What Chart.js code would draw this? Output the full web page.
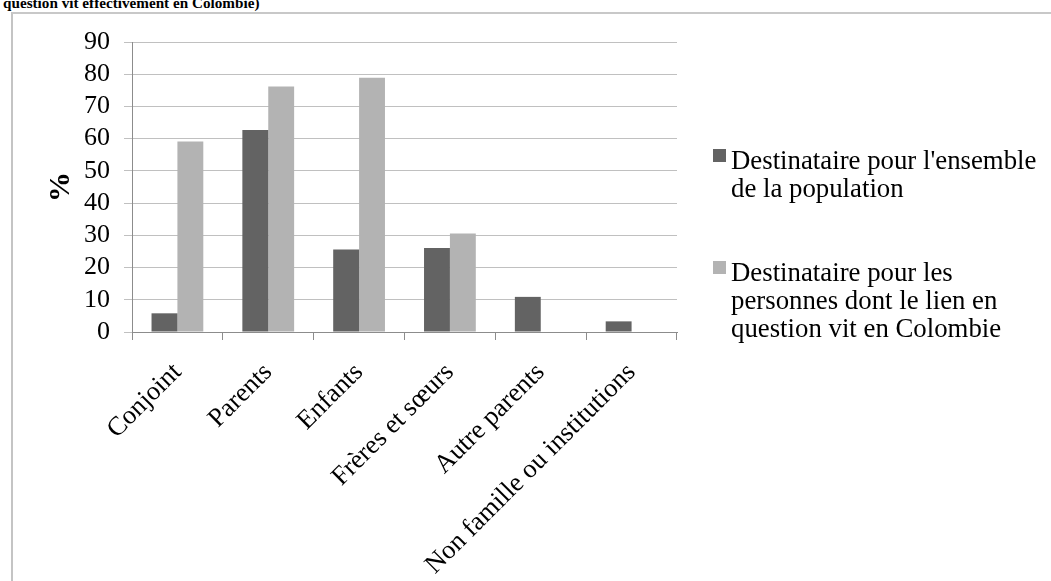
<!DOCTYPE html>
<html>
<head>
<meta charset="utf-8">
<script src="https://cdn.jsdelivr.net/npm/chart.js@4/dist/chart.umd.min.js"></script>
<style>
  html, body { margin: 0; padding: 0; background: #fff; }
  #wrap { position: relative; width: 1051px; height: 581px; overflow: hidden; }
  #frame { position: absolute; left: 11px; top: 12px; width: 1100px; height: 700px;
           border-left: 2px solid #c4c4c4; border-top: 2px solid #c8c8c8; box-sizing: border-box; }
  #title { position: absolute; left: 3px; top: -5px; font: bold 15.2px "Liberation Serif", serif; line-height: 15px; color: #000; white-space: nowrap; }
  canvas { position: absolute; left: 0; top: 0; }
  .leg { position: absolute; left: 731px; font: 26.8px "Liberation Serif", serif; line-height: 28px; color: #000; white-space: nowrap; }
  .box { position: absolute; left: 713px; width: 13px; height: 13px; }
</style>
</head>
<body>
<div id="wrap">
  <div id="frame"></div>
  <div id="title">question vit effectivement en Colombie)</div>
  <canvas id="c" width="1051" height="581"></canvas>
  <div id="legend"></div>
</div>
<script>
const categories = ["Conjoint", "Parents", "Enfants", "Frères et sœurs", "Autre parents", "Non famille ou institutions"];
const seriesAll = [5.8, 62.7, 25.6, 26.1, 10.9, 3.3];
const seriesColombie = [59.1, 76.2, 78.9, 30.6, null, null];
const seriesNames = [
  ["Destinataire pour l'ensemble", "de la population"],
  ["Destinataire pour les", "personnes dont le lien en", "question vit en Colombie"]
];
const seriesColors = ["#636363", "#b3b3b3"];
const yTicks = [0, 10, 20, 30, 40, 50, 60, 70, 80, 90];

const FONT = '"Liberation Serif", "Times New Roman", serif';

const chart = new Chart(document.getElementById('c'), {
  type: 'bar',
  data: {
    labels: categories,
    datasets: [
      { label: seriesNames[0].join(' '), data: seriesAll, backgroundColor: seriesColors[0], borderWidth: 0,
        categoryPercentage: 0.57, barPercentage: 1.0 },
      { label: seriesNames[1].join(' '), data: seriesColombie, backgroundColor: seriesColors[1], borderWidth: 0,
        categoryPercentage: 0.57, barPercentage: 1.0 }
    ]
  },
  options: {
    responsive: false,
    animation: false,
    layout: { padding: { left: 0, top: 42, right: 374, bottom: 0 } },
    plugins: { legend: { display: false }, tooltip: { enabled: false }, title: { display: false } },
    scales: {
      x: {
        grid: { drawOnChartArea: false, drawTicks: true, tickLength: 8, color: '#8c8c8c', offset: true },
        border: { color: '#8c8c8c', width: 1 },
        ticks: { autoSkip: false, minRotation: 45, maxRotation: 45, color: '#000',
                 font: { family: FONT, size: 26.5 }, padding: 17 },
        afterFit: s => { s.height = 249; }
      },
      y: {
        min: 0, max: 90,
        afterBuildTicks: s => { s.ticks = yTicks.map(v => ({ value: v })); },
        grid: { color: '#c0c0c0', tickLength: 8, drawTicks: true },
        border: { color: '#8c8c8c', width: 1 },
        ticks: { autoSkip: false, color: '#000', font: { family: FONT, size: 26 }, padding: 14 },
        title: { display: true, text: '%', color: '#000', font: { family: FONT, size: 30, weight: 'bold' },
                 padding: { top: 43, bottom: 0 } },
        afterFit: s => { s.width = 132; }
      }
    }
  }
});

// HTML legend built from datasets
const leg = document.getElementById('legend');
const tops = [146, 258];
chart.data.datasets.forEach((ds, i) => {
  const b = document.createElement('div');
  b.className = 'box';
  b.style.top = (tops[i] + 3) + 'px';
  b.style.background = ds.backgroundColor;
  leg.appendChild(b);
  const t = document.createElement('div');
  t.className = 'leg';
  t.style.top = tops[i] + 'px';
  t.innerHTML = seriesNames[i].map(s => s.replace(/&/g, '&amp;').replace(/</g, '&lt;')).join('<br>');
  leg.appendChild(t);
});
</script>
</body>
</html>
